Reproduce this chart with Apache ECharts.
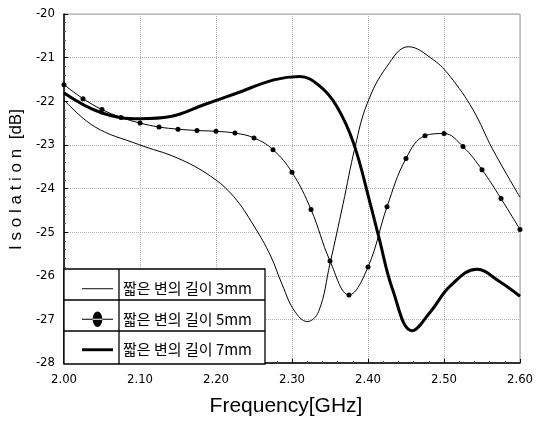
<!DOCTYPE html>
<html>
<head>
<meta charset="utf-8">
<script src="https://cdn.jsdelivr.net/npm/echarts@6/dist/echarts.min.js"></script>
<style>
html,body{margin:0;padding:0;background:#fff;}
#chart{width:539px;height:422px;}
</style>
</head>
<body>
<div id="chart"></div>
<script>
// ---- data ----
var seriesNames = ['짧은 변의 길이 3mm', '짧은 변의 길이 5mm', '짧은 변의 길이 7mm'];

var freq3mm = [2.000, 2.040, 2.098, 2.149, 2.193, 2.223, 2.250, 2.272, 2.287, 2.303, 2.320, 2.335, 2.350, 2.367, 2.383, 2.399, 2.425, 2.453, 2.486, 2.508, 2.538, 2.564, 2.600];
var iso3mm  = [-21.97, -22.58, -22.99, -23.30, -23.72, -24.18, -24.86, -25.55, -26.20, -26.80, -27.05, -26.82, -25.72, -24.37, -23.05, -22.05, -21.20, -20.75, -21.05, -21.43, -22.19, -23.10, -24.20];

var freq5mm = [2.000, 2.025, 2.050, 2.075, 2.100, 2.125, 2.150, 2.175, 2.200, 2.225, 2.250, 2.275, 2.300, 2.325, 2.350, 2.375, 2.400, 2.425, 2.450, 2.475, 2.500, 2.525, 2.550, 2.575, 2.600];
var iso5mm  = [-21.62, -21.94, -22.19, -22.37, -22.50, -22.59, -22.64, -22.67, -22.69, -22.73, -22.84, -23.11, -23.63, -24.48, -25.66, -26.44, -25.80, -24.42, -23.31, -22.79, -22.74, -23.04, -23.57, -24.23, -24.94];

var freq7mm = [2.000, 2.050, 2.100, 2.140, 2.184, 2.228, 2.276, 2.310, 2.337, 2.359, 2.381, 2.403, 2.414, 2.433, 2.458, 2.482, 2.508, 2.543, 2.573, 2.600];
var iso7mm  = [-21.81, -22.27, -22.40, -22.35, -22.08, -21.81, -21.51, -21.43, -21.66, -22.12, -22.96, -24.35, -25.10, -26.35, -27.26, -26.83, -26.24, -25.85, -26.13, -26.47];

var xTickLabels = ['2.00', '2.10', '2.20', '2.30', '2.40', '2.50', '2.60'];
var yTickLabels = ['-28', '-27', '-26', '-25', '-24', '-23', '-22', '-21', '-20'];

function pairs(xs, ys) {
  var out = [];
  for (var i = 0; i < xs.length; i++) out.push([xs[i], ys[i]]);
  return out;
}

var tickFont = "'Liberation Sans Narrow', 'DejaVu Sans Condensed', 'Arial Narrow', sans-serif";
var chart = echarts.init(document.getElementById('chart'), null, {renderer: 'canvas'});

var option = {
  animation: false,
  backgroundColor: '#fff',
  grid: {
    left: 63, right: 19, top: 14, bottom: 58,
    show: true, borderColor: '#9a9a9a', borderWidth: 1, backgroundColor: 'transparent'
  },
  xAxis: {
    type: 'value', min: 2.0, max: 2.6, interval: 0.1,
    name: 'Frequency[GHz]', nameLocation: 'middle', nameGap: 33,
    nameTextStyle: {fontFamily: "'Liberation Sans', Arial, sans-serif", fontSize: 21, color: '#000', padding: [0, 12, 0, 0]},
    axisLine: {show: true, lineStyle: {color: '#000', width: 1.5}},
    axisTick: {show: true, inside: true, length: 4, lineStyle: {color: '#000'}},
    minorTick: {show: true, splitNumber: 5, length: 2, lineStyle: {color: '#555'}},
    axisLabel: {
      margin: 10, color: '#000', fontSize: 13, fontFamily: tickFont,
      formatter: function (v) { return xTickLabels[Math.round((v - 2.0) / 0.1)]; }
    },
    splitLine: {show: true, lineStyle: {color: '#b0b0b0', type: 'dotted', width: 1}}
  },
  yAxis: {
    type: 'value', min: -28, max: -20, interval: 1,
    name: 'I s o l a t i o n  [dB]', nameLocation: 'middle', nameGap: 29, nameRotate: 90,
    nameTextStyle: {fontFamily: "'Liberation Sans', Arial, sans-serif", fontSize: 17, color: '#000', padding: [0, 0, 0, 18]},
    axisLine: {show: true, lineStyle: {color: '#000', width: 1.5}},
    axisTick: {show: true, inside: true, length: 4, lineStyle: {color: '#000'}},
    minorTick: {show: true, splitNumber: 5, length: 2, lineStyle: {color: '#555'}},
    axisLabel: {
      margin: 9, color: '#000', fontSize: 13, fontFamily: tickFont,
      formatter: function (v) { return yTickLabels[Math.round(v + 28)]; }
    },
    splitLine: {show: true, lineStyle: {color: '#b0b0b0', type: 'dotted', width: 1}}
  },
  legend: {
    orient: 'vertical', left: 77, top: 276,
    itemWidth: 31, itemHeight: 16, itemGap: 15,
    textStyle: {fontFamily: "'Noto Sans CJK KR', sans-serif", fontSize: 15, color: '#000', padding: [0, 0, 0, 5]},
    data: [
      {name: seriesNames[0], icon: 'path://M0 0M0 7.5H32V8.5H0ZM32 16'},
      {name: seriesNames[1], icon: 'path://M0 7.5H32V8.5H0ZM11 8A5 8 0 1 0 21 8A5 8 0 1 0 11 8Z'},
      {name: seriesNames[2], icon: 'path://M0 0M0 6.5H32V9.5H0ZM32 16'}
    ],
    z: 5
  },
  graphic: [
    {type: 'rect', z: 3, shape: {x: 64, y: 269, width: 201, height: 95}, style: {fill: '#fff', stroke: '#000', lineWidth: 1.3}},
    {type: 'line', z: 3, shape: {x1: 64, y1: 300, x2: 265, y2: 300}, style: {stroke: '#000', lineWidth: 1.3}},
    {type: 'line', z: 3, shape: {x1: 64, y1: 331, x2: 265, y2: 331}, style: {stroke: '#000', lineWidth: 1.3}},
    {type: 'line', z: 3, shape: {x1: 119, y1: 269, x2: 119, y2: 364}, style: {stroke: '#000', lineWidth: 1.3}}
  ],
  series: [
    {
      name: seriesNames[0], type: 'line', data: pairs(freq3mm, iso3mm),
      smooth: 0.4, symbol: 'none', color: '#000',
      lineStyle: {color: '#000', width: 1}
    },
    {
      name: seriesNames[1], type: 'line', data: pairs(freq5mm, iso5mm),
      smooth: 0.4, symbol: 'circle', symbolSize: 5, showSymbol: true, color: '#000',
      itemStyle: {color: '#000'},
      lineStyle: {color: '#000', width: 1}
    },
    {
      name: seriesNames[2], type: 'line', data: pairs(freq7mm, iso7mm),
      smooth: 0.4, symbol: 'none', color: '#000',
      lineStyle: {color: '#000', width: 3}
    }
  ]
};
chart.setOption(option);
</script>
</body>
</html>
